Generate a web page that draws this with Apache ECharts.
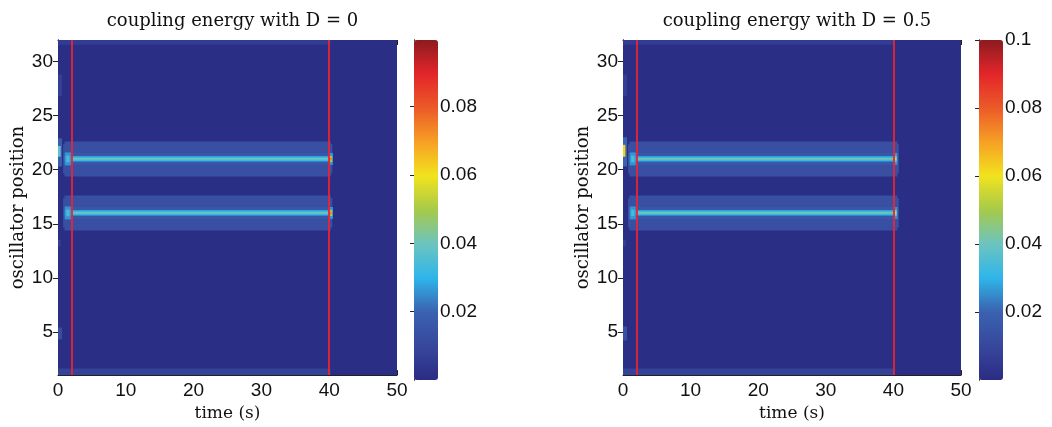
<!DOCTYPE html>
<html>
<head>
<meta charset="utf-8">
<script src="https://cdn.jsdelivr.net/npm/echarts@6/dist/echarts.min.js"></script>
<style>
  html, body { margin: 0; padding: 0; background: #fff; }
  #chart { width: 1052px; height: 427px; }
</style>
</head>
<body>
<div id="chart"></div>
<script>
// ---- data (time in s, position in oscillator index, energy) ----
var panelTitles = ['coupling energy with D = 0', 'coupling energy with D = 0.5'];
var yTicks = [5, 10, 15, 20, 25, 30];
var barTicksD0 = [0.02, 0.04, 0.06, 0.08];
var barTicksD05 = [0.02, 0.04, 0.06, 0.08, 0.1];
var barMax = [0.0995, 0.1];
var switchTimes = [2, 40];            // red markers
var bandCenters = [16, 21];           // driven oscillators
var backgroundEnergy = 0.0008;

// band layers around each center: [halfWidth, tStart, tEnd, energy]
var bandLayersD0 = [
    [1.62, 0.95, 40.25, 0.013],
    [1.35, 0.75, 40.45, 0.013],
    [0.55, 0.8, 40.4, 0.016],
    [0.24, 1.0, 40.35, 0.031],
    [0.08, 1.3, 40.3, 0.04],
    [0.6, 1.0, 1.9, 0.026],
    [0.3, 1.2, 1.7, 0.034],
    [0.55, 40.0, 40.55, 0.026],
    [0.28, 40.05, 40.45, 0.05],
    [0.12, 40.1, 40.4, 0.074]
];
var bandLayersD05 = [
    [1.62, 0.95, 40.6, 0.013],
    [1.35, 0.75, 40.8, 0.013],
    [0.55, 0.8, 40.7, 0.016],
    [0.24, 1.0, 40.4, 0.031],
    [0.08, 1.3, 40.3, 0.041],
    [0.6, 1.0, 1.9, 0.026],
    [0.3, 1.2, 1.7, 0.034],
    [0.55, 40.0, 40.6, 0.026],
    [0.28, 40.1, 40.5, 0.04],
    [0.12, 40.15, 40.45, 0.055]
];

// other patches: [tStart, tEnd, posLow, posHigh, energy]
var edgeCellsD0 = [
    [0, 40.2, 31.55, 32, 0.006],
    [0, 40.2, 1, 1.6, 0.008],
    [0, 0.6, 26.8, 28.8, 0.007],
    [0, 0.6, 20.3, 22.9, 0.018],
    [0, 0.4, 21.2, 22.2, 0.038],
    [0, 0.6, 4.3, 5.4, 0.012],
    [0, 0.4, 12.9, 13.5, 0.007]
];
var edgeCellsD05 = [
    [0, 40.2, 31.55, 32, 0.006],
    [0, 40.2, 1, 1.6, 0.008],
    [0, 0.6, 26.8, 28.8, 0.007],
    [0, 0.6, 20.3, 23, 0.02],
    [0, 0.35, 21.2, 22.3, 0.062],
    [0, 0.6, 4.2, 5.5, 0.013],
    [0, 0.4, 12.9, 13.5, 0.007]
];

var jetColors = ['#2a2c83', '#37479c', '#3a62b0', '#2fb5ea', '#6cc4c0', '#a6ca4a',
    '#f1e31d', '#f6a024', '#ec5a28', '#e3252a', '#8c1b1f'];

function buildCells(edgeCells, bandLayers) {
    var cells = [[0, 50, 1, 32, backgroundEnergy]];
    edgeCells.forEach(function (c) { cells.push(c); });
    bandLayers.forEach(function (l) {
        bandCenters.forEach(function (c) {
            cells.push([l[1], l[2], c - l[0], c + l[0], l[3]]);
        });
    });
    return cells;
}

function renderCell(params, api) {
    var p0 = api.coord([api.value(0), api.value(3)]);
    var p1 = api.coord([api.value(1), api.value(2)]);
    return {
        type: 'rect',
        shape: { x: p0[0], y: p0[1], width: p1[0] - p0[0], height: p1[1] - p0[1] },
        style: { fill: api.visual('color') }
    };
}

var chart = echarts.init(document.getElementById('chart'));
var tickFont = { fontFamily: "'Liberation Sans', Arial, sans-serif", fontSize: 19, color: '#111' };
var titleFont = { fontFamily: "'DejaVu Serif', serif", fontSize: 18, color: '#111', fontWeight: 'normal' };
var nameFont = { fontFamily: "'DejaVu Serif', serif", fontSize: 17, color: '#111' };
var yNameFont = { fontFamily: "'DejaVu Serif', serif", fontSize: 18, color: '#111' };
var frameLine = { show: true, lineStyle: { color: '#222', width: 1 } };
var tickLine = { color: '#222' };

var panels = [
    { left: 58, width: 339, bar: 414, cells: buildCells(edgeCellsD0, bandLayersD0), barTicks: barTicksD0 },
    { left: 623, width: 338, bar: 979, cells: buildCells(edgeCellsD05, bandLayersD05), barTicks: barTicksD05 }
];

var option = {
    animation: false,
    title: [], grid: [], xAxis: [], yAxis: [], visualMap: [], series: []
};

panels.forEach(function (p, i) {
    var g = i * 2;
    option.title.push({
        text: panelTitles[i], left: p.left + p.width / 2, top: 7, textAlign: 'center',
        textStyle: titleFont
    });
    option.grid.push({ left: p.left, top: 40, width: p.width, height: 340 });
    option.grid.push({ left: p.bar, top: 40, width: 24, height: 340 });

    // main plot: bottom + top x, left + right y
    option.xAxis.push({
        gridIndex: g, type: 'value', min: 0, max: 50, interval: 10, position: 'bottom',
        name: 'time (s)', nameLocation: 'middle', nameGap: 24, nameTextStyle: nameFont,
        axisLine: frameLine, axisTick: { inside: true, length: 5, lineStyle: tickLine },
        axisLabel: Object.assign({ margin: 6 }, tickFont), splitLine: { show: false }
    });
    option.xAxis.push({
        gridIndex: g, type: 'value', min: 0, max: 50, interval: 10, position: 'top',
        axisLine: frameLine, axisTick: { inside: true, length: 5, lineStyle: tickLine },
        axisLabel: { show: false }, splitLine: { show: false }
    });
    option.yAxis.push({
        gridIndex: g, type: 'value', min: 1, max: 32, position: 'left',
        name: 'oscillator position', nameLocation: 'middle', nameGap: 31, nameTextStyle: yNameFont,
        axisLine: frameLine,
        axisTick: { inside: true, length: 5, customValues: yTicks, lineStyle: tickLine },
        axisLabel: Object.assign({ margin: 5, customValues: yTicks }, tickFont), splitLine: { show: false }
    });
    option.yAxis.push({
        gridIndex: g, type: 'value', min: 1, max: 32, position: 'right',
        axisLine: frameLine,
        axisTick: { inside: true, length: 5, customValues: yTicks, lineStyle: tickLine },
        axisLabel: { show: false }, splitLine: { show: false }
    });

    // colour bar frame and ticks
    option.xAxis.push({ gridIndex: g + 1, type: 'value', min: 0, max: 1, show: false });
    option.xAxis.push({ gridIndex: g + 1, type: 'value', min: 0, max: 1, show: false });
    option.yAxis.push({
        gridIndex: g + 1, type: 'value', min: 0, max: barMax[i], position: 'right',
        axisLine: frameLine,
        axisTick: { inside: true, length: 4, customValues: p.barTicks, lineStyle: tickLine },
        axisLabel: Object.assign({ margin: 2, customValues: p.barTicks }, tickFont), splitLine: { show: false }
    });
    option.yAxis.push({
        gridIndex: g + 1, type: 'value', min: 0, max: barMax[i], position: 'left',
        axisLine: frameLine,
        axisTick: { inside: true, length: 4, customValues: p.barTicks, lineStyle: tickLine },
        axisLabel: { show: false }, splitLine: { show: false }
    });

    option.visualMap.push({
        type: 'continuous', seriesIndex: i, dimension: 4, min: 0, max: barMax[i],
        left: p.bar, top: 40, itemWidth: 24, itemHeight: 340, padding: 0,
        calculable: false, realtime: false, hoverLink: false,
        inRange: { color: jetColors }
    });

    option.series.push({
        type: 'custom', xAxisIndex: i * 4, yAxisIndex: i * 4, clip: true,
        renderItem: renderCell, encode: { x: [0, 1], y: [2, 3] },
        data: p.cells, silent: true, z: 1,
        markLine: {
            silent: true, symbol: 'none', animation: false,
            label: { show: false },
            lineStyle: { color: '#ee2233', width: 1.8, type: 'solid', opacity: 1 },
            emphasis: { disabled: true },
            data: switchTimes.map(function (t) { return { xAxis: t }; })
        }
    });
});

chart.setOption(option);
</script>
</body>
</html>
